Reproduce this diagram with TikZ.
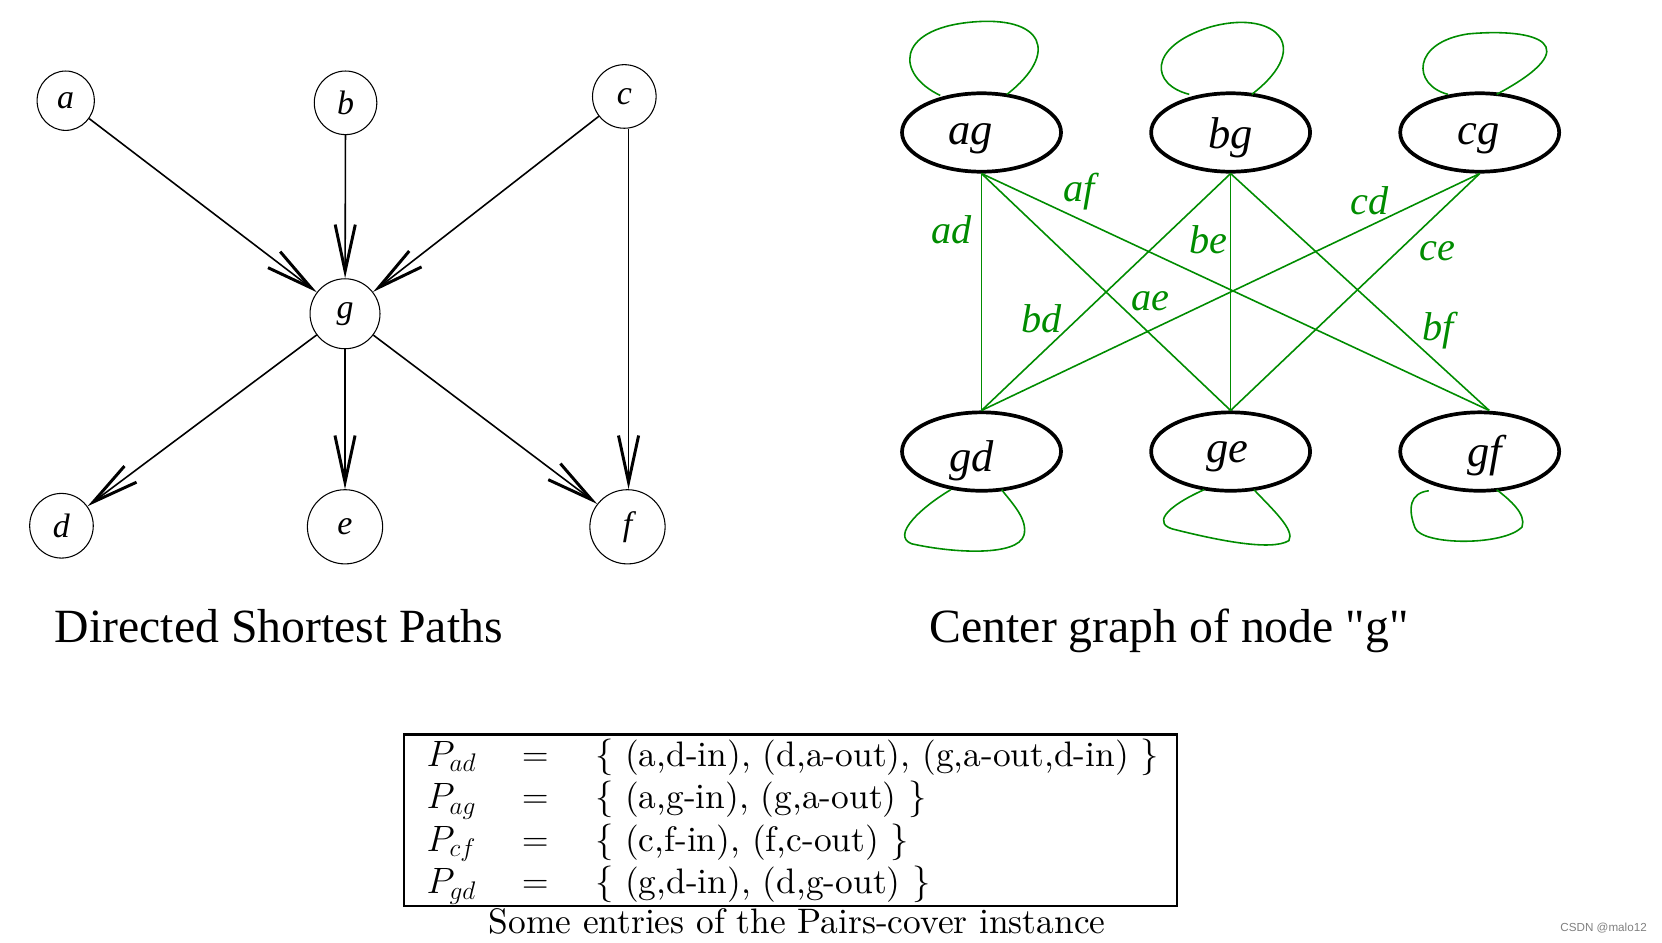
\documentclass[tikz,border=0pt]{standalone}
\usepackage{fontspec}
\newfontfamily\tnr{Liberation Serif}
\newfontfamily\wmfont{Liberation Sans}
\newfontfamily\lmten{lmroman10-regular.otf}
\usetikzlibrary{arrows.meta,shapes.geometric}
\definecolor{grn}{RGB}{0,140,0}
\begin{document}
\begin{tikzpicture}[x=0.5pt,y=-0.5pt,
  vtx/.style={draw,line width=0.5pt,ellipse,inner sep=0pt,font=\tnr\itshape\fontsize{16}{16}\selectfont},
  dedge/.style={line width=0.75pt,-{Straight Barb[length=22pt,width=9.5pt,line width=1.4pt]}},
  pairnode/.style={draw,line width=1.75pt,ellipse,inner sep=0pt,minimum width=75pt,minimum height=37pt},
  pairtext/.style={font=\tnr\itshape\fontsize{21}{21}\selectfont,inner sep=0pt},
  gedge/.style={grn,line width=0.75pt},
  glabel/.style={text=grn,font=\tnr\itshape\fontsize{19}{19}\selectfont,inner sep=0pt},
  title/.style={font=\tnr\fontsize{22.5}{24}\selectfont,inner sep=0pt,anchor=base},
  tab/.style={font=\lmten\fontsize{16.7}{18}\selectfont,inner sep=0pt}
]
\useasboundingbox (0,0) rectangle (1568,889);

% ---------- left graph ----------
\node[vtx,minimum width=27pt,minimum height=28pt] (a) at (62,95) {a};
\node[vtx,minimum width=29.5pt,minimum height=30pt] (b) at (326,97) {b};
\node[vtx,minimum width=30pt,minimum height=30pt] (c) at (589,91) {c};
\node[vtx,minimum width=33pt,minimum height=33pt] (g) at (325.5,296) {g};
\node[vtx,minimum width=30pt,minimum height=30.5pt] (d) at (58,496) {d};
\node[vtx,minimum width=35.5pt,minimum height=35pt] (e) at (325.5,497) {e};
\node[vtx,minimum width=35.5pt,minimum height=35pt] (f) at (592,497) {f};

\draw[dedge] (a) -- (g);
\draw[dedge] (b) -- (g);
\draw[dedge] (c) -- (g);
\draw[dedge] ([xshift=2pt]c.south) -- ([xshift=0.5pt]f.north);
\draw[dedge] (g) -- (d);
\draw[dedge] (g) -- (e);
\draw[dedge] (g) -- (f);

\node[title] (t1) at (263,606) {Directed Shortest Paths};

% ---------- right graph ----------
\node[pairnode] (ag) at (926,125) {};
\node[pairnode] (bg) at (1161,125) {};
\node[pairnode] (cg) at (1396,125) {};
\node[pairnode] (gd) at (926,426) {};
\node[pairnode] (ge) at (1161,426) {};
\node[pairnode] (gf) at (1396,426) {};
\node[pairtext] (agt) at (916,131) {ag};
\node[pairtext] (bgt) at (1161,130) {bg};
\node[pairtext] (cgt) at (1395,131) {cg};
\node[pairtext] (gdt) at (917,435) {gd};
\node[pairtext] (get) at (1158,431) {ge};
\node[pairtext] (gft) at (1401,430) {gf};

\coordinate (gfin) at ([xshift=4.5pt]gf.north);

\draw[gedge] (ag.south) -- (gd.north);
\draw[gedge] (ag.south) -- (ge.north);
\draw[gedge] (ag.south) -- (gfin);
\draw[gedge] (bg.south) -- (gd.north);
\draw[gedge] (bg.south) -- (ge.north);
\draw[gedge] (bg.south) -- (gfin);
\draw[gedge] (cg.south) -- (gd.north);
\draw[gedge] (cg.south) -- (ge.north);

\node[glabel] (lad) at (898,217) {ad};
\node[glabel] (laf) at (1018,181) {af};
\node[glabel] (lbe) at (1140,226) {be};
\node[glabel] (lcd) at (1292,189) {cd};
\node[glabel] (lce) at (1356,237) {ce};
\node[glabel] (lbd) at (983,301) {bd};
\node[glabel] (lae) at (1085,284) {ae};
\node[glabel] (lbf) at (1357,312) {bf};

% self loops
\draw[gedge] (887,90) .. controls (845,70) and (845,28) .. (915,21) .. controls (985,14) and (1000,50) .. (950,89);
\draw[gedge] (1122,89) .. controls (1086,80) and (1082,45) .. (1140,26) .. controls (1200,8) and (1242,42) .. (1181,89);
\draw[gedge] (1366,89) .. controls (1332,80) and (1332,40) .. (1385,32) .. controls (1450,26) and (1500,42) .. (1412,89);
\draw[gedge] (897,462) .. controls (870,478) and (840,505) .. (860,513) .. controls (900,522) and (960,525) .. (966,505) .. controls (970,490) and (955,475) .. (945,462);
\draw[gedge] (1136,462) .. controls (1100,478) and (1085,495) .. (1110,500) .. controls (1150,510) and (1200,520) .. (1216,510) .. controls (1222,500) and (1200,480) .. (1183,462);
\draw[gedge] (1348,463) .. controls (1330,465) and (1328,480) .. (1335,498) .. controls (1342,515) and (1420,515) .. (1436,497) .. controls (1440,485) and (1425,472) .. (1412,462);

\node[title] (t2) at (1103,606) {Center graph of node "g"};

% ---------- table ----------
\draw[line width=1pt] (381,693) rectangle (1110,855);
\node[tab,anchor=base west] (p1) at (402,723) {$P_{ad}$};
\node[tab,anchor=base] (e1) at (505,723) {$=$};
\node[tab,anchor=base west] (s1) at (561,723) {$\{$ (a,d-in), (d,a-out), (g,a-out,d-in) $\}$};
\node[tab,anchor=base west] (p2) at (402,763) {$P_{ag}$};
\node[tab,anchor=base] (e2) at (505,763) {$=$};
\node[tab,anchor=base west] (s2) at (561,763) {$\{$ (a,g-in), (g,a-out) $\}$};
\node[tab,anchor=base west] (p3) at (402,803) {$P_{cf}$};
\node[tab,anchor=base] (e3) at (505,803) {$=$};
\node[tab,anchor=base west] (s3) at (561,803) {$\{$ (c,f-in), (f,c-out) $\}$};
\node[tab,anchor=base west] (p4) at (402,843) {$P_{gd}$};
\node[tab,anchor=base] (e4) at (505,843) {$=$};
\node[tab,anchor=base west] (s4) at (561,843) {$\{$ (g,d-in), (d,g-out) $\}$};
\node[tab,anchor=base] (cap) at (752,881) {Some entries of the Pairs-cover instance};

\node[font=\wmfont\fontsize{5.5}{6}\selectfont,text=gray,anchor=east,inner sep=0pt] (wm) at (1554,876) {CSDN @malo12};
\end{tikzpicture}
\end{document}
